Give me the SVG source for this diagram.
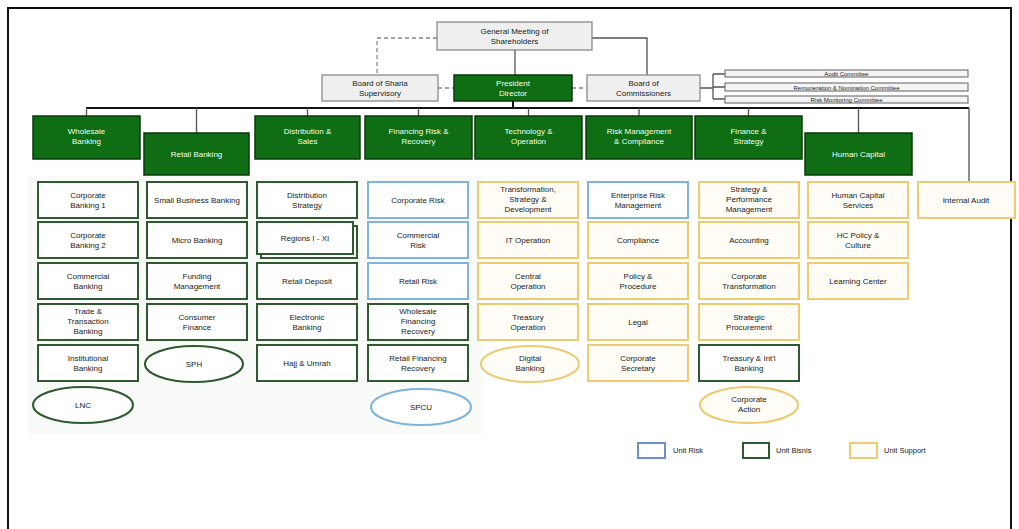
<svg xmlns="http://www.w3.org/2000/svg" width="1019" height="529" viewBox="0 0 1019 529">
<style>
text{font-family:"Liberation Sans",Arial,sans-serif;font-size:8px;text-anchor:middle;fill:#222}
.dir{fill:#0f6e14;stroke:#083a08;stroke-width:1.5}
.dt{fill:#f2fff0}
.gray{fill:#efefef;stroke:#8a8a8a;stroke-width:1.3}
.com{fill:#f4f4f4;stroke:#777;stroke-width:1.2}
.g{fill:#fff;stroke:#2f5a2f;stroke-width:2}
.b{fill:#fff;stroke:#7fb3dc;stroke-width:2}
.y{fill:#fffdf6;stroke:#eccb72;stroke-width:2}
.ln{fill:none;stroke:#555;stroke-width:1.3}
.bus{fill:none;stroke:#111;stroke-width:2}
.dash{fill:none;stroke:#888;stroke-width:1.3;stroke-dasharray:4 3}
.lt{text-anchor:start;font-size:7.5px}
</style>
<rect x="0" y="0" width="1019" height="529" fill="#fff"/>
<rect x="8" y="8" width="1003" height="540" fill="none" stroke="#111" stroke-width="2"/>
<rect x="28" y="176" width="455" height="258" fill="#f8fbf7"/>

<g id="connectors">
<path class="dash" d="M437,38 H377 V75"/>
<path class="ln" d="M592,38 H647 V75"/>
<path class="ln" d="M515,50 V75"/>
<path class="dash" d="M438,88 H454"/>
<path class="dash" d="M572,88 H587"/>
<path class="ln" d="M700,88 H713 M713,74 V99 M713,74 H725 M713,87 H725 M713,99 H725"/>
<path class="bus" d="M513,101 V108 M86,108 H969"/>
<path class="ln" d="M86.5,108 V116 M196.5,108 V133 M307.5,108 V116 M418.5,108 V116 M528.5,108 V116 M639,108 V116 M748.5,108 V116 M858.5,108 V133 M969,108 V182"/>
</g>

<g id="gms"><rect class="gray" x="437" y="22" width="155" height="28"/><text x="514.5" y="34">General Meeting of</text><text x="514.5" y="44">Shareholders</text></g>
<g id="sharia"><rect class="gray" x="322" y="75" width="116" height="26"/><text x="380" y="86">Board of Sharia</text><text x="380" y="96">Supervisory</text></g>
<g id="president"><rect class="dir" x="454" y="75" width="118" height="26"/><text class="dt" x="513" y="86">President</text><text class="dt" x="513" y="96">Director</text></g>
<g id="boc"><rect class="gray" x="587" y="75" width="113" height="26"/><text x="643.5" y="86">Board of</text><text x="643.5" y="96">Commissioners</text></g>
<g id="audit-committee"><rect class="com" x="725" y="70" width="243" height="7"/><text x="846.5" y="76" style="font-size:6px">Audit Committee</text></g>
<g id="rem-committee"><rect class="com" x="725" y="83" width="243" height="8"/><text x="846.5" y="89.5" style="font-size:6px">Remuneration &amp; Nomination Committee</text></g>
<g id="risk-committee"><rect class="com" x="725" y="96" width="243" height="7"/><text x="846.5" y="102" style="font-size:6px">Risk Monitoring Committee</text></g>

<g id="d-wholesale"><rect class="dir" x="33" y="116" width="107" height="43"/><text class="dt" x="86.5" y="134">Wholesale</text><text class="dt" x="86.5" y="144">Banking</text></g>
<g id="d-retail"><rect class="dir" x="144" y="133" width="105" height="42"/><text class="dt" x="196.5" y="157">Retail Banking</text></g>
<g id="d-distribution"><rect class="dir" x="255" y="116" width="105" height="43"/><text class="dt" x="307.5" y="134">Distribution &amp;</text><text class="dt" x="307.5" y="144">Sales</text></g>
<g id="d-finrisk"><rect class="dir" x="365" y="116" width="107" height="43"/><text class="dt" x="418.5" y="134">Financing Risk &amp;</text><text class="dt" x="418.5" y="144">Recovery</text></g>
<g id="d-tech"><rect class="dir" x="475" y="116" width="107" height="43"/><text class="dt" x="528.5" y="134">Technology &amp;</text><text class="dt" x="528.5" y="144">Operation</text></g>
<g id="d-riskmgmt"><rect class="dir" x="586" y="116" width="106" height="43"/><text class="dt" x="639" y="134">Risk Management</text><text class="dt" x="639" y="144">&amp; Compliance</text></g>
<g id="d-finance"><rect class="dir" x="695" y="116" width="107" height="43"/><text class="dt" x="748.5" y="134">Finance &amp;</text><text class="dt" x="748.5" y="144">Strategy</text></g>
<g id="d-hc"><rect class="dir" x="805" y="133" width="107" height="42"/><text class="dt" x="858.5" y="157">Human Capital</text></g>

<!-- column 1 -->
<g id="c1r1"><rect class="g" x="38" y="182" width="100" height="36"/><text x="88" y="198">Corporate</text><text x="88" y="208">Banking 1</text></g>
<g id="c1r2"><rect class="g" x="38" y="222" width="100" height="36"/><text x="88" y="238">Corporate</text><text x="88" y="248">Banking 2</text></g>
<g id="c1r3"><rect class="g" x="38" y="263" width="100" height="36"/><text x="88" y="279">Commercial</text><text x="88" y="289">Banking</text></g>
<g id="c1r4"><rect class="g" x="38" y="304" width="100" height="36"/><text x="88" y="314">Trade &amp;</text><text x="88" y="324">Transaction</text><text x="88" y="334">Banking</text></g>
<g id="c1r5"><rect class="g" x="38" y="345" width="100" height="36"/><text x="88" y="361">Institutional</text><text x="88" y="371">Banking</text></g>
<g id="c1e"><ellipse class="g" cx="83" cy="405" rx="50" ry="18"/><text x="83" y="408">LNC</text></g>

<!-- column 2 -->
<g id="c2r1"><rect class="g" x="147" y="182" width="100" height="36"/><text x="197" y="203">Small Business Banking</text></g>
<g id="c2r2"><rect class="g" x="147" y="222" width="100" height="36"/><text x="197" y="243">Micro Banking</text></g>
<g id="c2r3"><rect class="g" x="147" y="263" width="100" height="36"/><text x="197" y="279">Funding</text><text x="197" y="289">Management</text></g>
<g id="c2r4"><rect class="g" x="147" y="304" width="100" height="36"/><text x="197" y="320">Consumer</text><text x="197" y="330">Finance</text></g>
<g id="c2e"><ellipse class="g" cx="194" cy="364" rx="49" ry="18"/><text x="194" y="367">SPH</text></g>

<!-- column 3 -->
<g id="c3r1"><rect class="g" x="257" y="182" width="100" height="36"/><text x="307" y="198">Distribution</text><text x="307" y="208">Strategy</text></g>
<g id="c3r2"><rect class="g" x="261" y="226" width="96" height="32"/><rect class="g" x="257" y="222" width="96" height="32"/><text x="305" y="241">Regions I - XI</text></g>
<g id="c3r3"><rect class="g" x="257" y="263" width="100" height="36"/><text x="307" y="284">Retail Deposit</text></g>
<g id="c3r4"><rect class="g" x="257" y="304" width="100" height="36"/><text x="307" y="320">Electronic</text><text x="307" y="330">Banking</text></g>
<g id="c3r5"><rect class="g" x="257" y="345" width="100" height="36"/><text x="307" y="366">Hajj &amp; Umrah</text></g>

<!-- column 4 -->
<g id="c4r1"><rect class="b" x="368" y="182" width="100" height="36"/><text x="418" y="203">Corporate Risk</text></g>
<g id="c4r2"><rect class="b" x="368" y="222" width="100" height="36"/><text x="418" y="238">Commercial</text><text x="418" y="248">Risk</text></g>
<g id="c4r3"><rect class="b" x="368" y="263" width="100" height="36"/><text x="418" y="284">Retail Risk</text></g>
<g id="c4r4"><rect class="g" x="368" y="304" width="100" height="36"/><text x="418" y="314">Wholesale</text><text x="418" y="324">Financing</text><text x="418" y="334">Recovery</text></g>
<g id="c4r5"><rect class="g" x="368" y="345" width="100" height="36"/><text x="418" y="361">Retail Financing</text><text x="418" y="371">Recovery</text></g>
<g id="c4e"><ellipse class="b" cx="421" cy="407" rx="50" ry="18"/><text x="421" y="410">SPCU</text></g>

<!-- column 5 -->
<g id="c5r1"><rect class="y" x="478" y="182" width="100" height="36"/><text x="528" y="192">Transformation,</text><text x="528" y="202">Strategy &amp;</text><text x="528" y="212">Development</text></g>
<g id="c5r2"><rect class="y" x="478" y="222" width="100" height="36"/><text x="528" y="243">IT Operation</text></g>
<g id="c5r3"><rect class="y" x="478" y="263" width="100" height="36"/><text x="528" y="279">Central</text><text x="528" y="289">Operation</text></g>
<g id="c5r4"><rect class="y" x="478" y="304" width="100" height="36"/><text x="528" y="320">Treasury</text><text x="528" y="330">Operation</text></g>
<g id="c5e"><ellipse class="y" cx="530" cy="364" rx="49" ry="18"/><text x="530" y="361">Digital</text><text x="530" y="371">Banking</text></g>

<!-- column 6 -->
<g id="c6r1"><rect class="b" x="588" y="182" width="100" height="36"/><text x="638" y="198">Enterprise Risk</text><text x="638" y="208">Management</text></g>
<g id="c6r2"><rect class="y" x="588" y="222" width="100" height="36"/><text x="638" y="243">Compliance</text></g>
<g id="c6r3"><rect class="y" x="588" y="263" width="100" height="36"/><text x="638" y="279">Policy &amp;</text><text x="638" y="289">Procedure</text></g>
<g id="c6r4"><rect class="y" x="588" y="304" width="100" height="36"/><text x="638" y="325">Legal</text></g>
<g id="c6r5"><rect class="y" x="588" y="345" width="100" height="36"/><text x="638" y="361">Corporate</text><text x="638" y="371">Secretary</text></g>

<!-- column 7 -->
<g id="c7r1"><rect class="y" x="699" y="182" width="100" height="36"/><text x="749" y="192">Strategy &amp;</text><text x="749" y="202">Performance</text><text x="749" y="212">Management</text></g>
<g id="c7r2"><rect class="y" x="699" y="222" width="100" height="36"/><text x="749" y="243">Accounting</text></g>
<g id="c7r3"><rect class="y" x="699" y="263" width="100" height="36"/><text x="749" y="279">Corporate</text><text x="749" y="289">Transformation</text></g>
<g id="c7r4"><rect class="y" x="699" y="304" width="100" height="36"/><text x="749" y="320">Strategic</text><text x="749" y="330">Procurement</text></g>
<g id="c7r5"><rect class="g" x="699" y="345" width="100" height="36"/><text x="749" y="361">Treasury &amp; Int'l</text><text x="749" y="371">Banking</text></g>
<g id="c7e"><ellipse class="y" cx="749" cy="405" rx="49" ry="18"/><text x="749" y="402">Corporate</text><text x="749" y="412">Action</text></g>

<!-- column 8 -->
<g id="c8r1"><rect class="y" x="808" y="182" width="100" height="36"/><text x="858" y="198">Human Capital</text><text x="858" y="208">Services</text></g>
<g id="c8r2"><rect class="y" x="808" y="222" width="100" height="36"/><text x="858" y="238">HC Policy &amp;</text><text x="858" y="248">Culture</text></g>
<g id="c8r3"><rect class="y" x="808" y="263" width="100" height="36"/><text x="858" y="284">Learning Center</text></g>

<!-- column 9 -->
<g id="c9r1"><rect class="y" x="918" y="182" width="97" height="36"/><text x="966" y="203">Internal Audit</text></g>

<g id="legend">
<rect x="638" y="443" width="27" height="15" fill="#fff" stroke="#6f8fc8" stroke-width="2"/><text class="lt" x="673" y="453">Unit Risk</text>
<rect x="743" y="443" width="26" height="15" fill="#fff" stroke="#2f5a2f" stroke-width="2"/><text class="lt" x="776" y="453">Unit Bisnis</text>
<rect x="850" y="443" width="27" height="15" fill="#fffdf6" stroke="#eccb72" stroke-width="2"/><text class="lt" x="884" y="453">Unit Support</text>
</g>
</svg>
